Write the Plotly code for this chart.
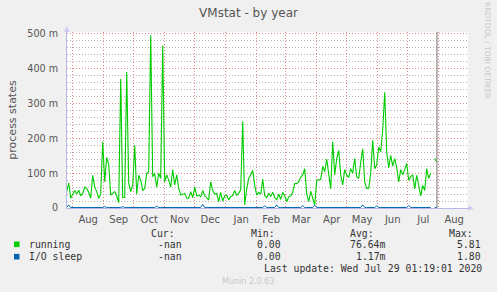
import pandas as pd
import plotly.graph_objects as go

# ---- data (milli-units, one sample every 2 days starting 2019-07-26) ----
start_date = "2019-07-26"
running = [
    47, 72, 28, 37, 50, 40, 51, 35, 42, 60,
    56, 45, 28, 94, 60, 47, 28, 40, 190, 75,
    145, 125, 37, 42, 47, 35, 15, 370, 30, 30,
    390, 70, 47, 66, 180, 40, 94, 80, 50, 56,
    99, 104, 496, 90, 99, 60, 100, 85, 466, 75,
    95, 80, 60, 110, 66, 95, 56, 37, 40, 42,
    28, 28, 47, 30, 60, 35, 37, 32, 50, 35,
    30, 23, 75, 50, 40, 42, 18, 45, 20, 35,
    37, 23, 33, 35, 50, 37, 42, 52, 249, 9,
    55, 85, 95, 108, 65, 37, 45, 40, 83, 35,
    30, 42, 33, 45, 30, 23, 40, 25, 45, 35,
    18, 32, 35, 45, 70, 70, 75, 88, 95, 113,
    40, 18, 48, 28, 9, 80, 80, 82, 120, 104,
    140, 104, 55, 190, 95, 142, 165, 95, 66, 110,
    94, 88, 113, 100, 142, 90, 85, 130, 170, 75,
    56, 56, 100, 194, 113, 123, 175, 161, 225, 332,
    161, 115, 151, 120, 142, 115, 75, 110, 95, 110,
    128, 80, 90, 95, 55, 94, 60, 35, 65, 50,
    113, 85, 100, None, 142, 132,
]
io_sleep = [
    1.5, 9, 1.5, 1.5, 1.5, 1.5, 1.5, 1.5, 1.5, 1.5,
    1.5, 1.5, 1.5, 1.5, 1.5, 1.5, 1.5, 1.5, 1.5, 4,
    1.5, 1.5, 1.5, 1.5, 1.5, 1.5, 1.5, 1.5, 4, 1.5,
    1.5, 1.5, 1.5, 1.5, 1.5, 1.5, 1.5, 1.5, 1.5, 1.5,
    1.5, 1.5, 1.5, 1.5, 1.5, 5, 1.5, 1.5, 1.5, 1.5,
    3, 1.5, 1.5, 1.5, 1.5, 1.5, 1.5, 1.5, 1.5, 1.5,
    1.5, 1.5, 1.5, 1.5, 1.5, 1.5, 1.5, 1.5, 10, 1.5,
    1.5, 1.5, 1.5, 1.5, 1.5, 1.5, 1.5, 1.5, 1.5, 3,
    1.5, 1.5, 1.5, 1.5, 1.5, 1.5, 1.5, 1.5, 1.5, 1.5,
    1.5, 1.5, 1.5, 1.5, 1.5, 1.5, 1.5, 1.5, 1.5, 6,
    1.5, 1.5, 1.5, 1.5, 1.5, 9, 1.5, 1.5, 1.5, 1.5,
    1.5, 1.5, 1.5, 1.5, 1.5, 1.5, 1.5, 1.5, 7, 1.5,
    1.5, 1.5, 1.5, 1.5, 8, 1.5, 1.5, 1.5, 1.5, 1.5,
    1.5, 1.5, 1.5, 1.5, 1.5, 1.5, 1.5, 1.5, 1.5, 1.5,
    1.5, 1.5, 1.5, 1.5, 1.5, 1.5, 1.5, 1.5, 9, 1.5,
    1.5, 1.5, 1.5, 1.5, 1.5, 6, 1.5, 1.5, 1.5, 1.5,
    1.5, 1.5, 1.5, 1.5, 1.5, 1.5, 1.5, 1.5, 1.5, 1.5,
    1.5, 7, 1.5, 1.5, 1.5, 1.5, 3, 1.5, 1.5, 1.5,
    1.5, 1.5, 1.5, None, 1.5, 1.5,
]
y_tickvals = [0, 100, 200, 300, 400, 500]
y_ticktext = ["0", "100 m", "200 m", "300 m", "400 m", "500 m"]
x_range = ["2019-07-26 07:00", "2020-08-30 07:00"]
now_marker = "2020-07-30 06:00"

legend_rows = [
    ("running", "#00CC00", "-nan", "0.00", "76.64m", "5.81"),
    ("I/O sleep", "#0066B3", "-nan", "0.00", "1.17m", "1.80"),
]
last_update = "Last update: Wed Jul 29 01:19:01 2020"

dates = pd.date_range(start=start_date, periods=len(running), freq="2D")

# ---- geometry helpers (pixel -> paper) ----
W, H = 497, 292
L, R, T, B = 67, 29, 32, 84
PW, PH = W - L - R, H - T - B


def px(x):
    return (x - L) / PW


def py(y):
    return (H - B - y) / PH


fig = go.Figure()
fig.add_trace(go.Scatter(x=dates, y=io_sleep, mode="lines", name="I/O sleep",
                         line=dict(color="#0066B3", width=1), connectgaps=False))
fig.add_trace(go.Scatter(x=dates, y=running, mode="lines", name="running",
                         line=dict(color="#00CC00", width=1.1), connectgaps=False))

grid_red = "#E08888"
dotpat = "1px,2px"
fig.update_layout(
    width=W, height=H,
    margin=dict(l=L, r=R, t=T, b=B),
    paper_bgcolor="#F0F0F0",
    plot_bgcolor="#FFFFFF",
    showlegend=False,
    font=dict(family="DejaVu Sans", color="#555555", size=10),
    title=dict(text="VMstat - by year", x=0.5, xanchor="center", y=1 - 13 / H,
               yanchor="middle", font=dict(size=12, color="#555555")),
    xaxis=dict(
        range=x_range, type="date", tick0="2019-08-01", dtick="M1",
        tickformat="%b", ticklabelmode="period",
        showgrid=True, gridcolor=grid_red, griddash=dotpat, gridwidth=1,
        showline=True, linecolor="#B8B8E8", linewidth=1,
        ticks="", zeroline=False, tickfont=dict(size=10, color="#555555"),
        ticklabelstandoff=2,
    ),
    yaxis=dict(
        range=[0, 505], tickmode="array", tickvals=y_tickvals, ticktext=y_ticktext,
        showgrid=True, gridcolor=grid_red, griddash=dotpat, gridwidth=1,
        minor=dict(tickmode="linear", tick0=0, dtick=20, showgrid=True,
                   gridcolor="#B4B4B4", griddash=dotpat, gridwidth=1, ticks=""),
        showline=True, linecolor="#B8B8E8", linewidth=1,
        ticks="", zeroline=False, tickfont=dict(size=9.6, color="#555555"),
        ticklabelstandoff=6,
        title=dict(text="process states", font=dict(size=11, color="#555555"),
                   standoff=8),
    ),
)

fig.add_shape(type="line", xref="x", yref="paper", x0=now_marker, x1=now_marker,
              y0=0, y1=1, layer="above", line=dict(color="#8A8A8A", width=1.2))

ann = []
# axis arrows
ann.append(dict(x=px(67), y=py(29), text="▲", font=dict(size=7, color="#C8C8F4")))
ann.append(dict(x=px(471), y=py(208), text="▶", font=dict(size=7, color="#C8C8F4")))
# side and footer texts
ann.append(dict(x=px(488), y=py(50), text="RRDTOOL / TOBI OETIKER", textangle=90,
                font=dict(size=7.5, color="#C8C8C8")))
ann.append(dict(x=px(248), y=py(281), text="Munin 2.0.63",
                font=dict(size=8, color="#C8C8C8")))

mono = dict(family="DejaVu Sans Mono", size=9.8, color="#333333")
for x, t in [(149.3, "Cur:"), (249, "Min:"), (348, "Avg:"), (446.7, "Max:")]:
    ann.append(dict(x=px(x), y=py(233.3), text=t, xanchor="left", font=mono))
row_y = [244.3, 256.7]
val_x = [(156, 2), (255, 3), (None, 4), (455, 5)]
avg_x = [347.7, 354.3]
for r, row in enumerate(legend_rows):
    yy = row_y[r]
    fig.add_shape(type="rect", xref="paper", yref="paper",
                  x0=px(14), x1=px(19.5), y0=py(yy + 2.8), y1=py(yy - 2.8),
                  fillcolor=row[1], line=dict(width=0))
    ann.append(dict(x=px(26.7), y=py(yy), text=row[0], xanchor="left", font=mono))
    for x, k in val_x:
        xx = avg_x[r] if x is None else x
        ann.append(dict(x=px(xx), y=py(yy), text=row[k], xanchor="left", font=mono))
ann.append(dict(x=px(261.7), y=py(268.7), text=last_update, xanchor="left", font=mono))

for a in ann:
    a.setdefault("xanchor", "center")
    a.update(xref="paper", yref="paper", yanchor="middle", showarrow=False)
fig.update_layout(annotations=ann)

fig.write_html("out.html")
